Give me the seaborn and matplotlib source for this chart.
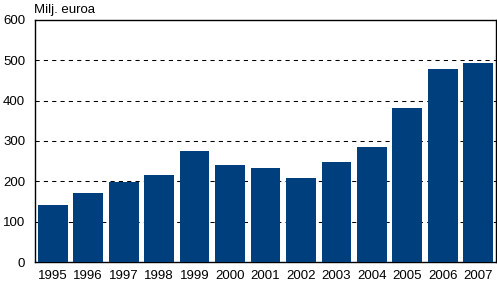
import matplotlib
matplotlib.use("Agg")
import matplotlib.pyplot as plt
import seaborn as sns
import pandas as pd

years = ["1995", "1996", "1997", "1998", "1999", "2000", "2001",
         "2002", "2003", "2004", "2005", "2006", "2007"]
values = [142, 172, 198, 215, 274, 240, 234, 207, 249, 285, 381, 478, 493]
yticks = [0, 100, 200, 300, 400, 500, 600]
ylabel = "Milj. euroa"

sns.set_theme(style="white")
plt.rcParams["font.family"] = ["Liberation Sans", "DejaVu Sans"]

df = pd.DataFrame({"year": years, "value": values})

fig = plt.figure(figsize=(4.97, 2.85), dpi=100)
ax = fig.add_axes([0.0704, 0.0807, 0.9276, 0.8493])

sns.barplot(data=df, x="year", y="value", color="#003f7d", saturation=1,
            width=0.84, ax=ax, zorder=3, linewidth=0, edgecolor="none")

ax.set_ylim(0, 600)
ax.set_xlim(-0.5, len(years) - 0.5)
ax.set_yticks(yticks)
ax.set_yticklabels([str(t) for t in yticks])
ax.set_xlabel("")
ax.set_ylabel("")
for t in yticks[1:-1]:
    ax.axhline(t, color="black", linestyle=(0, (4, 4)), linewidth=0.75, zorder=1)

for s in ax.spines.values():
    s.set_visible(True)
    s.set_color("black")
    s.set_linewidth(1.0)

ax.tick_params(axis="both", length=0, labelsize=9.5, colors="black")
ax.tick_params(axis="y", pad=7)
ax.tick_params(axis="x", pad=6)

fig.text(0.0684, 0.945, ylabel, fontsize=9.5, ha="left", va="bottom", color="black")

fig.savefig("out.png", dpi=100)
